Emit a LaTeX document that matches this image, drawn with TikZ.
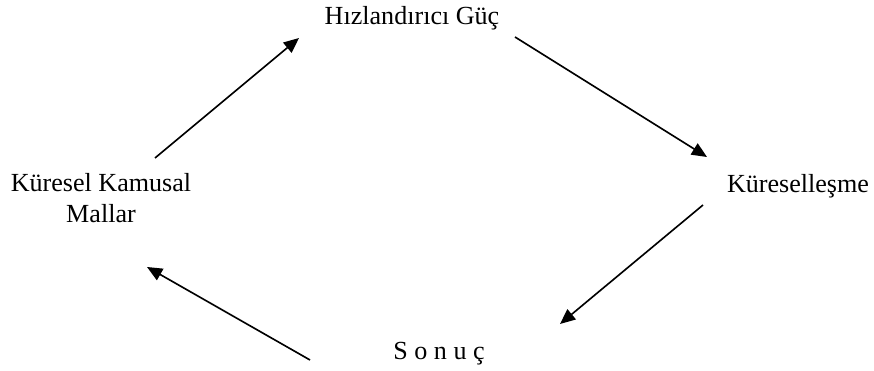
\documentclass[tikz,border=0pt]{standalone}
\usepackage{fontspec}
\setmainfont{Liberation Serif}
\usetikzlibrary{arrows.meta}
\tikzset{
  node-label/.style={inner sep=0pt,font=\fontsize{12}{14.4}\selectfont,align=center},
  arrow/.style={-{Triangle[length=7pt,width=6pt]},line width=0.75pt,draw=black},
}

\begin{document}
\begin{tikzpicture}[x=0.46pt,y=-0.46pt]
  \useasboundingbox (0,0) rectangle (874,371);
  \node[node-label,anchor=base] (guc) at (412,25) {Hızlandırıcı Güç};
  \node[node-label,anchor=base] (kuresellesme) at (798,193) {Küreselleşme};
  \node[node-label,anchor=base] (sonuc) at (439,360) {S o n u ç};
  \node[node-label] (mallar) at (101,198) {Küresel Kamusal\\Mallar};
  % uclari serbest oklar
  \coordinate (mallar-out) at (155,158);
  \coordinate (guc-in) at (299,38);
  \coordinate (guc-out) at (515,37);
  \coordinate (kur-in) at (707,157);
  \coordinate (kur-out) at (703,205);
  \coordinate (sonuc-in) at (560,324);
  \coordinate (sonuc-out) at (310,360);
  \coordinate (mallar-in) at (147,267);
  \draw[arrow] (mallar-out) -- (guc-in);
  \draw[arrow] (guc-out) -- (kur-in);
  \draw[arrow] (kur-out) -- (sonuc-in);
  \draw[arrow] (sonuc-out) -- (mallar-in);
\end{tikzpicture}
\end{document}
